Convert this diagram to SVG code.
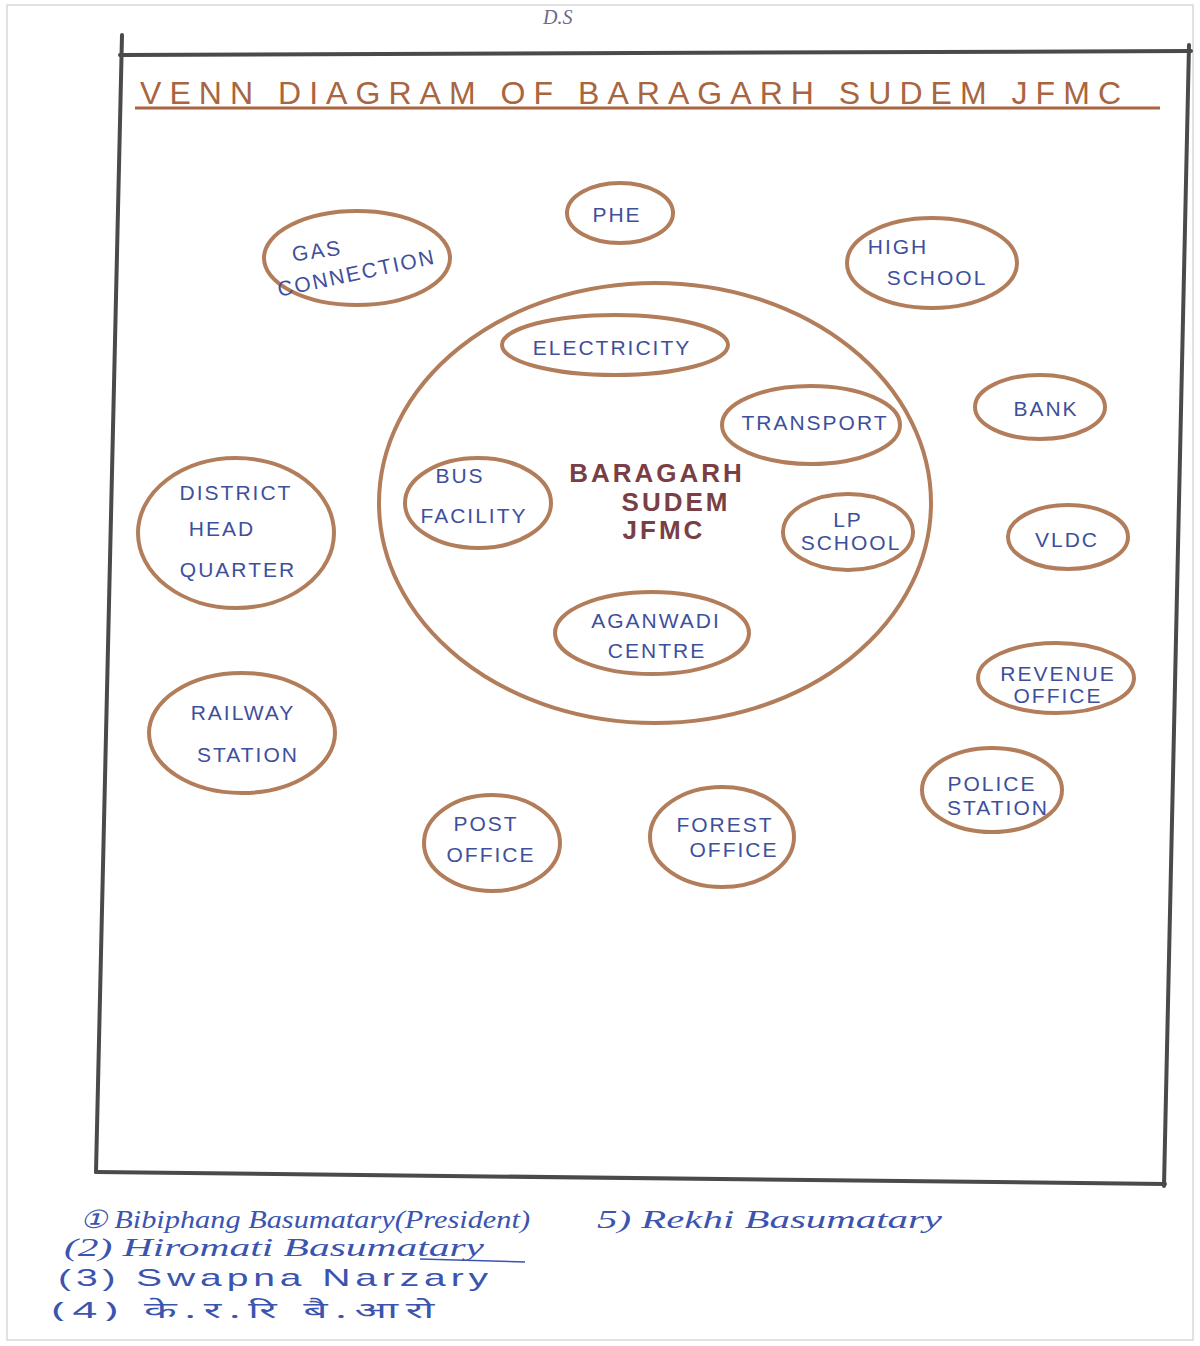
<svg xmlns="http://www.w3.org/2000/svg" width="1200" height="1346" viewBox="0 0 1200 1346">
<style>
.bg{fill:#ffffff}
.frame{stroke:#4a4a4a;stroke-width:4;fill:none;stroke-linecap:round}
.ell{fill:none;stroke:#b27d5a;stroke-width:4}
.lbl{font-family:"Liberation Sans",Arial,sans-serif;font-size:21px;fill:#3e4f9c;letter-spacing:2px;text-anchor:middle}
.title{font-family:"Liberation Sans",Arial,sans-serif;font-size:32px;fill:#a8653f;letter-spacing:4px}
.core{font-family:"Liberation Sans",Arial,sans-serif;font-size:26px;font-weight:bold;fill:#7a3f45;letter-spacing:3px;text-anchor:middle}
.sig{font-family:"Liberation Serif",serif;font-style:italic;font-size:25px;fill:#3b54b0}
.sig2{font-family:"Liberation Sans",sans-serif;font-size:24px;fill:#3b54b0;letter-spacing:3px}
.sigd{font-family:"Noto Sans",sans-serif;font-size:22px;fill:#3b54b0;letter-spacing:4px}
</style>
<rect class="bg" x="0" y="0" width="1200" height="1346"/>
<rect x="7" y="5" width="1186" height="1335" fill="none" stroke="#d8d8d8" stroke-width="1.5"/>
<g id="frame">
<line class="frame" x1="122" y1="35" x2="96" y2="1172"/>
<line class="frame" x1="120" y1="55" x2="1191" y2="51"/>
<line class="frame" x1="1189" y1="45" x2="1164" y2="1186"/>
<line class="frame" x1="96" y1="1172" x2="1165" y2="1184"/>
</g>
<text x="543" y="24" font-family="Liberation Serif,serif" font-size="20" fill="#6b6b8a" font-style="italic">D.S</text>
<g id="title">
<text class="title" x="140" y="104" textLength="985">VENN  DIAGRAM  OF  BARAGARH  SUDEM  JFMC</text>
<line x1="135" y1="108" x2="1160" y2="108" stroke="#a8653f" stroke-width="3"/>
</g>
<g id="jfmc">
<ellipse class="ell" cx="655" cy="503" rx="276" ry="220"/>
<text class="core" x="657" y="482">BARAGARH</text>
<text class="core" x="676" y="511">SUDEM</text>
<text class="core" x="664" y="539" font-size="23">JFMC</text>
</g>
<g id="electricity"><ellipse class="ell" cx="615" cy="345" rx="113" ry="30"/><text class="lbl" x="612" y="355">ELECTRICITY</text></g>
<g id="transport"><ellipse class="ell" cx="811" cy="425" rx="89" ry="39"/><text class="lbl" x="815" y="430" font-size="19">TRANSPORT</text></g>
<g id="bus"><ellipse class="ell" cx="478" cy="503" rx="73" ry="45"/><text class="lbl" x="460" y="483">BUS</text><text class="lbl" x="474" y="523">FACILITY</text></g>
<g id="lpschool"><ellipse class="ell" cx="848" cy="532" rx="65" ry="38"/><text class="lbl" x="848" y="527">LP</text><text class="lbl" x="851" y="550">SCHOOL</text></g>
<g id="aganwadi"><ellipse class="ell" cx="652" cy="633" rx="97" ry="41"/><text class="lbl" x="656" y="628">AGANWADI</text><text class="lbl" x="657" y="658">CENTRE</text></g>
<g id="phe"><ellipse class="ell" cx="620" cy="213" rx="53" ry="30"/><text class="lbl" x="617" y="222">PHE</text></g>
<g id="gas"><ellipse class="ell" cx="357" cy="258" rx="93" ry="47"/><text class="lbl" x="318" y="258" transform="rotate(-8 318 258)">GAS</text><text class="lbl" x="358" y="280" transform="rotate(-12 358 280)">CONNECTION</text></g>
<g id="highschool"><ellipse class="ell" cx="932" cy="263" rx="85" ry="45"/><text class="lbl" x="898" y="254">HIGH</text><text class="lbl" x="937" y="285">SCHOOL</text></g>
<g id="bank"><ellipse class="ell" cx="1040" cy="407" rx="65" ry="32"/><text class="lbl" x="1046" y="416">BANK</text></g>
<g id="district"><ellipse class="ell" cx="236" cy="533" rx="98" ry="75"/><text class="lbl" x="236" y="500">DISTRICT</text><text class="lbl" x="222" y="536">HEAD</text><text class="lbl" x="238" y="577">QUARTER</text></g>
<g id="vldc"><ellipse class="ell" cx="1068" cy="537" rx="60" ry="32"/><text class="lbl" x="1067" y="547">VLDC</text></g>
<g id="revenue"><ellipse class="ell" cx="1056" cy="678" rx="78" ry="35"/><text class="lbl" x="1058" y="681">REVENUE</text><text class="lbl" x="1058" y="703">OFFICE</text></g>
<g id="railway"><ellipse class="ell" cx="242" cy="733" rx="93" ry="60"/><text class="lbl" x="243" y="720">RAILWAY</text><text class="lbl" x="248" y="762">STATION</text></g>
<g id="police"><ellipse class="ell" cx="992" cy="790" rx="70" ry="42"/><text class="lbl" x="992" y="791">POLICE</text><text class="lbl" x="998" y="815">STATION</text></g>
<g id="post"><ellipse class="ell" cx="492" cy="843" rx="68" ry="48"/><text class="lbl" x="486" y="831">POST</text><text class="lbl" x="491" y="862">OFFICE</text></g>
<g id="forest"><ellipse class="ell" cx="722" cy="837" rx="72" ry="50"/><text class="lbl" x="725" y="832">FOREST</text><text class="lbl" x="734" y="857">OFFICE</text></g>
<g id="signatures">
<text class="sig" x="80" y="1228" textLength="450" lengthAdjust="spacingAndGlyphs">① Bibiphang Basumatary(President)</text>
<text class="sig" x="64" y="1256" textLength="420" lengthAdjust="spacingAndGlyphs">(2) Hiromati Basumatary</text>
<text class="sig2" x="58" y="1286" textLength="435" lengthAdjust="spacingAndGlyphs">(3) Swapna Narzary</text>
<text class="sigd" x="52" y="1318" textLength="390" lengthAdjust="spacingAndGlyphs">(4) के.र.रि  बै.आरो</text>
<text class="sig" x="597" y="1228" textLength="345" lengthAdjust="spacingAndGlyphs">5) Rekhi Basumatary</text>
<line x1="420" y1="1259" x2="525" y2="1262" stroke="#3b54b0" stroke-width="1.5"/>
</g>
</svg>
